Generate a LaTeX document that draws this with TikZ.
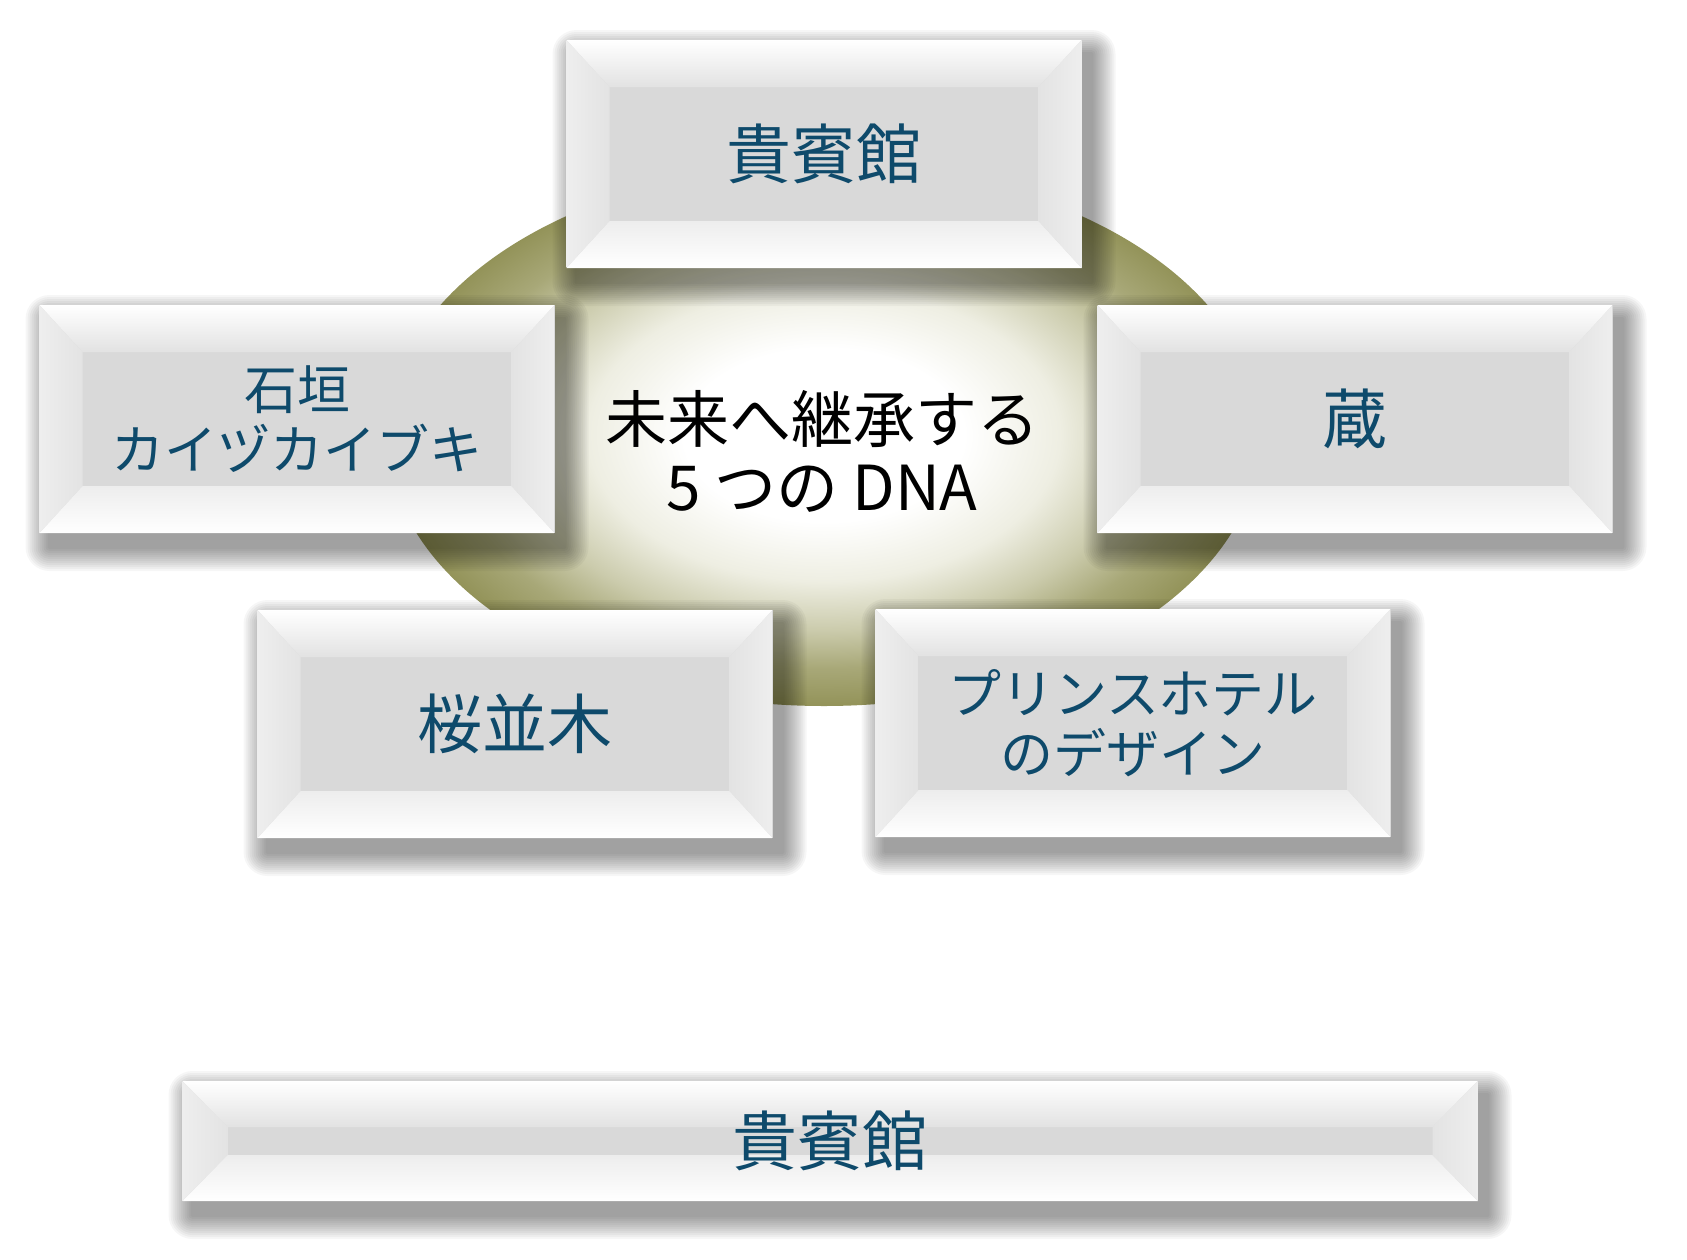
\documentclass[tikz,border=0pt]{standalone}
\usepackage{fontspec}
\newfontfamily\jpfont{Noto Sans CJK JP}
\usetikzlibrary{shapes.geometric,calc}
\pgfdeclarelayer{baselayer}
\pgfdeclarelayer{shadowlayer}
\pgfsetlayers{baselayer,shadowlayer,main}
\definecolor{txtblue}{HTML}{0E4A6B}
\definecolor{facegray}{HTML}{D9D9D9}
\definecolor{sidelight}{HTML}{EEEEEE}
\definecolor{sidedark}{HTML}{E3E3E3}
\definecolor{topin}{HTML}{E2E2E2}
\definecolor{botin}{HTML}{EDEDED}
\definecolor{dnacream}{HTML}{EEEEE2}
\definecolor{dnamid}{HTML}{CBCBAC}
\definecolor{dnaolive}{HTML}{A8A878}
\definecolor{dnadark}{HTML}{939359}
\pgfdeclareradialshading{dnaglow}{\pgfpoint{0bp}{0bp}}{color(0bp)=(white); color(8bp)=(white); color(13.5bp)=(dnacream); color(18bp)=(dnamid); color(21.5bp)=(dnaolive); color(25bp)=(dnadark); color(50bp)=(dnadark)}
\newcommand{\dropshade}[1]{%
  \begin{pgfonlayer}{shadowlayer}
    \foreach \k in {2,4,...,24}{
      \fill[black, opacity=0.035, rounded corners=\k*1pt]
        ($(#1.north west)+(10pt-\k*1pt,-14pt+\k*1pt)$) rectangle
        ($(#1.south east)+(10pt+\k*1pt,-14pt-\k*1pt)$);
    }
  \end{pgfonlayer}}
\tikzset{
  bvx/.store in=\bvx, bvy/.store in=\bvy, bvx=43pt, bvy=47pt,
  bevelbox/.style={rectangle, inner sep=0pt, outer sep=0pt, fill=facegray,
    text=txtblue, align=center, minimum width=515pt, minimum height=228pt,
    path picture={
      \coordinate (pNW) at (path picture bounding box.north west);
      \coordinate (pNE) at (path picture bounding box.north east);
      \coordinate (pSW) at (path picture bounding box.south west);
      \coordinate (pSE) at (path picture bounding box.south east);
      \coordinate (iNW) at ($(pNW)+(\bvx,-\bvy)$);
      \coordinate (iNE) at ($(pNE)+(-\bvx,-\bvy)$);
      \coordinate (iSW) at ($(pSW)+(\bvx,\bvy)$);
      \coordinate (iSE) at ($(pSE)+(-\bvx,\bvy)$);
      \shade[top color=white, middle color=white, bottom color=topin] (pNW) -- (pNE) -- (iNE) -- (iNW) -- cycle;
      \shade[top color=botin, middle color=white, bottom color=white] (pSW) -- (iSW) -- (iSE) -- (pSE) -- cycle;
      \shade[left color=sidelight, right color=sidedark] (pNW) -- (iNW) -- (iSW) -- (pSW) -- cycle;
      \shade[left color=sidedark, right color=sidelight] (pNE) -- (pSE) -- (iSE) -- (iNE) -- cycle;
    }},
  bigjp/.style={font=\jpfont\fontsize{65pt}{72pt}\selectfont},
  smalljp/.style={font=\jpfont\fontsize{53pt}{60pt}\selectfont},
}
\begin{document}
\begin{tikzpicture}[x=1pt,y=-1pt]
\useasboundingbox (0,0) rectangle (1687,1259);
\begin{pgfonlayer}{baselayer}
\fill[white] (0,0) rectangle (1687,1259);
\node[ellipse, shade, shading=dnaglow, inner sep=0pt, minimum width=874pt, minimum height=542pt] (dna) at (824,435) {};
\end{pgfonlayer}
\node[bevelbox, bigjp] (kihinkan) at (824,154) {貴賓館};
\dropshade{kihinkan}
\node[bevelbox, smalljp] (ishigaki) at (297,419) {石垣\\カイヅカイブキ};
\dropshade{ishigaki}
\node[bevelbox, bigjp] (kura) at (1355,419) {蔵};
\dropshade{kura}
\node[bevelbox, bigjp] (sakura) at (515,724) {桜並木};
\dropshade{sakura}
\node[bevelbox, smalljp] (prince) at (1133,723) {プリンスホテル\\のデザイン};
\dropshade{prince}
\node[bevelbox, bigjp, minimum width=1295pt, minimum height=120pt, bvx=45pt, bvy=46pt] (kihinkanbar) at (830,1141) {貴賓館};
\dropshade{kihinkanbar}
\node[font=\jpfont\fontsize{62pt}{68pt}\selectfont, align=center, text=black] (dnatext) at (822,451) {未来へ継承する\\5 つの DNA};
\end{tikzpicture}
\end{document}
